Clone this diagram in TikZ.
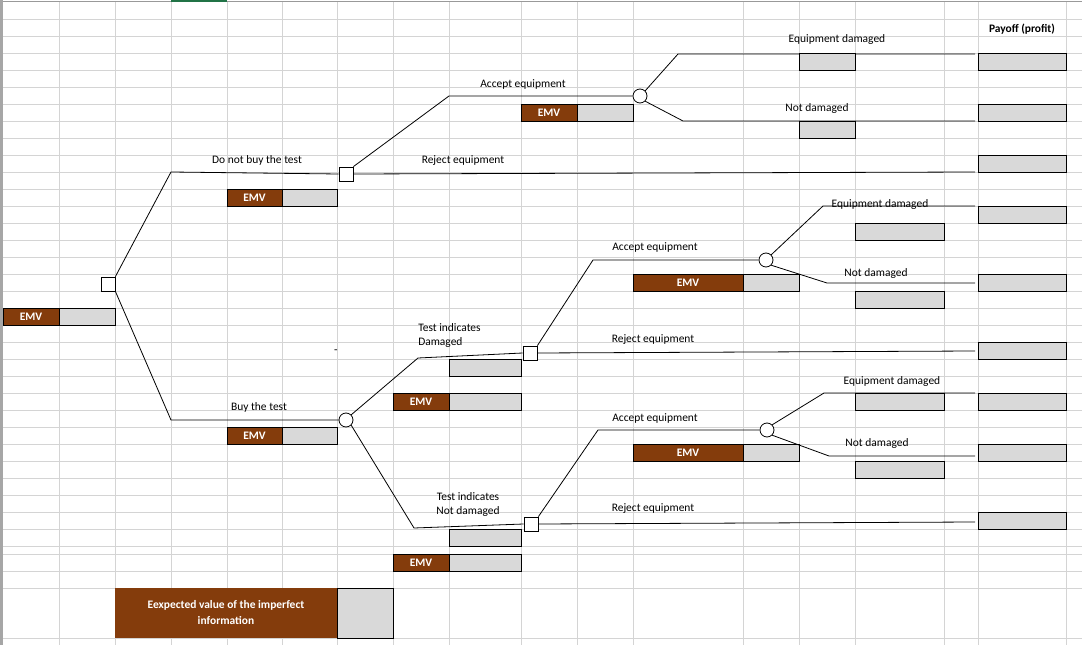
\documentclass[tikz,border=0pt]{standalone}
\usepackage{fontspec}
\setmainfont{Carlito}
\definecolor{brownfill}{HTML}{843C0C}
\definecolor{boxgray}{HTML}{D9D9D9}
\definecolor{gridc}{HTML}{D4D4D4}
\definecolor{xlgreen}{HTML}{217346}
\begin{document}
\begin{tikzpicture}[x=0.75pt,y=-0.75pt,
  lbl/.style={font=\fontsize{8.6}{10}\selectfont,inner sep=0pt},
  emvt/.style={font=\fontsize{8.6}{10}\selectfont\bfseries,text=white,inner sep=0pt},
  gb/.style={draw=black,fill=boxgray,line width=0.7pt},
  bb/.style={draw=black,fill=brownfill,line width=0.7pt},
  dsq/.style={draw=black,fill=white,minimum size=10.5pt,inner sep=0pt,line width=0.6pt},
  chn/.style={draw=black,fill=white,circle,minimum size=10.5pt,inner sep=0pt,line width=0.6pt},
  br/.style={line width=0.6pt}]
\useasboundingbox (0,0) rectangle (1082,645);
\fill[white] (0,0) rectangle (1082,645);
% grid
\foreach \c in {59,115,171,227,282,337,393,449,521,577,633,743,799,855,944,978,1066}
  \draw[gridc,line width=0.6pt] (\c,2) -- (\c,645);
\foreach \r in {19,36,53,70,87,104,121,138,155,172,189,206,223,240,257,274,291,308,325,342,359,376,393,410,427,444,461,478,495,512,529,546,554,571,588,638}
  \draw[gridc,line width=0.6pt] (3,\r) -- (1082,\r);
\draw[gray!80,line width=1pt] (0,1.5) -- (1082,1.5);
\draw[gray!70,line width=2pt] (1.5,0) -- (1.5,645);
\draw[xlgreen,line width=1.5pt] (171,1) -- (227,1);

% helper for EMV pair
\newcommand\emvpair[5]{%
  \draw[bb] (#1,#4) rectangle (#2,#5);
  \draw[gb] (#2,#4) rectangle (#3,#5);
  \node[emvt] at ({(#1+#2)/2},{(#4+#5)/2}) {EMV};}

% root
\emvpair{3}{59}{115}{308}{325}
\node[dsq] (d0) at (108,284) {};
\coordinate (a1) at (171,172);
\coordinate (a2) at (171,420);
\node[dsq] (d1) at (346,174) {};
\node[chn] (c0) at (346,420) {};
\draw[br] (d0.north east) -- (a1) -- (d1.west);
\draw[br] (d0.south east) -- (a2) -- (c0.west);
\node[lbl] at (257,160) {Do not buy the test};
\emvpair{227}{282}{337}{189}{206}
\node[lbl] at (259,407) {Buy the test};
\emvpair{227}{282}{337}{427}{444}
\node[lbl] at (336,352) {-};

% do not buy branch
\coordinate (b1) at (449,96);
\node[chn] (c1) at (640,96) {};
\draw[br] (d1.north east) -- (b1) -- (c1.west);
\node[lbl] at (523,84) {Accept equipment};
\emvpair{521}{577}{633}{104}{121}
\coordinate (r1) at (975,172);
\draw[br] (d1.east) -- (r1);
\node[lbl] at (463,161) {Reject equipment};
\coordinate (e1) at (678,54); \coordinate (e1r) at (975,54);
\coordinate (n1) at (683,121); \coordinate (n1r) at (975,121);
\draw[br] (c1.north east) -- (e1) -- (e1r);
\draw[br] (c1.south east) -- (n1) -- (n1r);
\node[lbl] at (837,40) {Equipment damaged};
\draw[gb] (799,53) rectangle (855,70);
\node[lbl] at (817,109) {Not damaged};
\draw[gb] (799,121) rectangle (855,138);

% payoffs
\node[lbl,font=\fontsize{8.6}{10}\selectfont\bfseries] at (1022,29) {Payoff (profit)};
\foreach \y in {53,104,155,206,274,342,393,444,512}
  \draw[gb] (978,\y) rectangle (1066,\y+17);

% buy the test branch
\coordinate (t1) at (418,358);
\node[dsq] (d2) at (530,353) {};
\draw[br] (c0.north east) -- (t1) -- (d2.west);
\node[lbl,align=left,anchor=north west] at (418,323) {Test indicates\\[1pt]Damaged};
\draw[gb] (449,359) rectangle (521,376);
\emvpair{393}{449}{521}{393}{410}
\coordinate (t2) at (414,528);
\node[dsq] (d3) at (531,524) {};
\draw[br] (c0.south east) -- (t2) -- (d3.west);
\node[lbl,align=center,anchor=north] at (468,492) {Test indicates\\[1pt]Not damaged};
\draw[gb] (449,529) rectangle (521,546);
\emvpair{393}{449}{521}{554}{571}

% after damaged test
\coordinate (u1) at (593,260);
\node[chn] (c2) at (766,260) {};
\draw[br] (d2.north east) -- (u1) -- (c2.west);
\node[lbl] at (655,247) {Accept equipment};
\emvpair{633}{743}{799}{274}{291}
\coordinate (r2) at (975,351);
\draw[br] (d2.east) -- (r2);
\node[lbl] at (653,340) {Reject equipment};
\coordinate (e2) at (823,206); \coordinate (e2r) at (975,206);
\coordinate (n2) at (827,283); \coordinate (n2r) at (975,283);
\draw[br] (c2.north east) -- (e2) -- (e2r);
\draw[br] (c2.south east) -- (n2) -- (n2r);
\node[lbl] at (880,205) {Equipment damaged};
\draw[gb] (855,223) rectangle (944,240);
\node[lbl] at (876,274) {Not damaged};
\draw[gb] (855,291) rectangle (944,308);

% after not-damaged test
\coordinate (u2) at (598,430);
\node[chn] (c3) at (767,430) {};
\draw[br] (d3.north east) -- (u2) -- (c3.west);
\node[lbl] at (655,418) {Accept equipment};
\emvpair{633}{743}{799}{444}{461}
\coordinate (r3) at (975,522);
\draw[br] (d3.east) -- (r3);
\node[lbl] at (653,509) {Reject equipment};
\coordinate (e3) at (824,393); \coordinate (e3r) at (975,393);
\coordinate (n3) at (829,456); \coordinate (n3r) at (975,456);
\draw[br] (c3.north east) -- (e3) -- (e3r);
\draw[br] (c3.south east) -- (n3) -- (n3r);
\node[lbl] at (892,382) {Equipment damaged};
\draw[gb] (855,393) rectangle (944,410);
\node[lbl] at (877,444) {Not damaged};
\draw[gb] (855,461) rectangle (944,478);

% bottom box
\fill[brownfill] (115,588) rectangle (337,638);
\draw[gb] (337,588) rectangle (393,638);
\node[emvt,align=center] at (226,613) {Eexpected value of the imperfect\\[2pt]information};
\end{tikzpicture}
\end{document}
